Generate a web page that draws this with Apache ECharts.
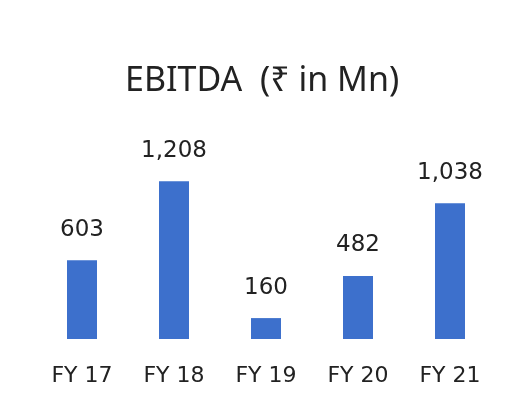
<!DOCTYPE html>
<html><head><meta charset="utf-8">
<script src="https://cdn.jsdelivr.net/npm/echarts@6/dist/echarts.min.js"></script>
<style>html,body{margin:0;padding:0;background:#fff}#c{width:512px;height:409px}</style>
</head><body><div id="c"></div>
<script>
const categories = ['FY 17', 'FY 18', 'FY 19', 'FY 20', 'FY 21'];
const ebitda = [603, 1208, 160, 482, 1038];
const titleText = 'EBITDA  (₹ in Mn)';

const chart = echarts.init(document.getElementById('c'), null, {renderer: 'canvas'});
chart.setOption({
  backgroundColor: '#ffffff',
  animation: false,
  title: {
    text: titleText,
    left: 120,
    top: 59,
    textStyle: {fontFamily: 'Noto Sans', fontSize: 34, fontWeight: 'normal', color: '#222222'}
  },
  grid: {left: 36, right: 16, top: 143, bottom: 70},
  xAxis: {
    type: 'category',
    data: categories,
    axisLine: {show: false},
    axisTick: {show: false},
    axisLabel: {margin: 26, fontFamily: 'DejaVu Sans', fontSize: 22, color: '#222222'}
  },
  yAxis: {
    type: 'value',
    min: 0, max: 1500,
    show: false,
    splitLine: {show: false}
  },
  series: [{
    type: 'bar',
    data: ebitda,
    barWidth: 30,
    itemStyle: {color: '#3d70cc'},
    label: {
      show: true, position: 'top', distance: 19,
      fontFamily: 'DejaVu Sans', fontSize: 23, color: '#222222',
      formatter: p => p.value.toLocaleString('en-US')
    }
  }]
});
</script></body></html>
